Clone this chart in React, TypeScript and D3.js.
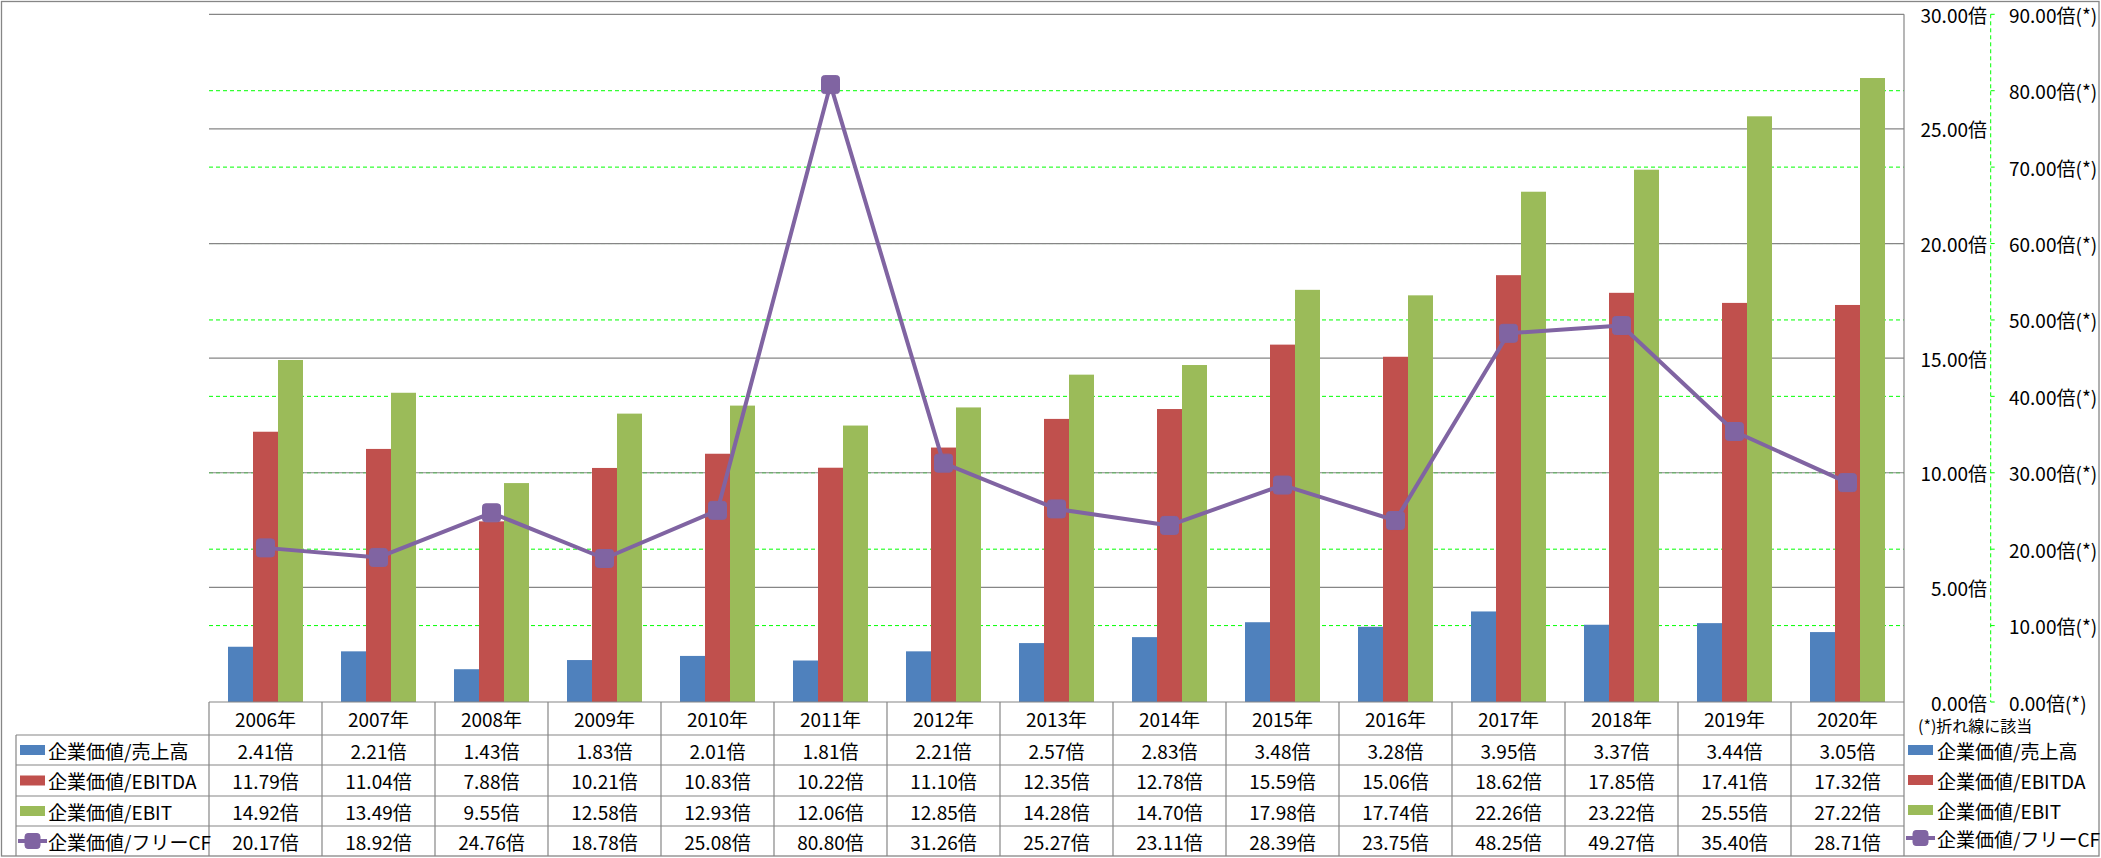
import React, { useEffect } from "react";
import * as d3 from "d3";

const years = ["2006", "2007", "2008", "2009", "2010", "2011", "2012", "2013", "2014", "2015", "2016", "2017", "2018", "2019", "2020"];
const seriesNames = ["企業価値/売上高", "企業価値/EBITDA", "企業価値/EBIT", "企業価値/フリーCF"];
const sales = [2.41, 2.21, 1.43, 1.83, 2.01, 1.81, 2.21, 2.57, 2.83, 3.48, 3.28, 3.95, 3.37, 3.44, 3.05];
const ebitda = [11.79, 11.04, 7.88, 10.21, 10.83, 10.22, 11.1, 12.35, 12.78, 15.59, 15.06, 18.62, 17.85, 17.41, 17.32];
const ebit = [14.92, 13.49, 9.55, 12.58, 12.93, 12.06, 12.85, 14.28, 14.7, 17.98, 17.74, 22.26, 23.22, 25.55, 27.22];
const fcf = [20.17, 18.92, 24.76, 18.78, 25.08, 80.8, 31.26, 25.27, 23.11, 28.39, 23.75, 48.25, 49.27, 35.4, 28.71];
const primaryTicks = [0, 5, 10, 15, 20, 25, 30];
const secondaryTicks = [0, 10, 20, 30, 40, 50, 60, 70, 80, 90];
const footnote = "(*)折れ線に該当";

const barColors = ["#4F81BD", "#C0504D", "#9BBB59"];
const lineColor = "#8064A2";
const gridGray = "#868686";
const green = "#00FF00";
const FONT = "'Noto Sans CJK JP', 'Noto Sans', sans-serif";

export default function App() {
  useEffect(() => {
    document.body.style.margin = "0";
  }, []);

  const W = 2101, H = 858;
  const left = 209, right = 1904, top = 14.3, bottom = 702;
  const x = d3.scaleBand<string>().domain(years).range([left, right]).paddingInner(0).paddingOuter(0);
  const bw = x.bandwidth();
  const groupW = bw * 75 / 113;
  const inner = d3.scaleBand<number>().domain([0, 1, 2]).range([0, groupW]);
  const yP = d3.scaleLinear().domain([0, 30]).range([bottom, top]);
  const yS = d3.scaleLinear().domain([0, 90]).range([bottom, top]);
  const barSeries = [sales, ebitda, ebit];

  const line = d3.line<number>()
    .x((_, i) => (x(years[i]) as number) + bw / 2)
    .y((d) => yS(d));

  const rowTops = [735, 765, 796, 826];
  const rowBottoms = [765, 796, 826, 856];
  const rowCenters = rowTops.map((t, i) => (t + rowBottoms[i]) / 2);
  const secAxisX = 1990.7;

  const marker = (cx: number, cy: number, s: number, key: string) => (
    <rect key={key} x={cx - s / 2} y={cy - s / 2} width={s} height={s} rx={3} ry={3} fill={lineColor} stroke={lineColor} strokeWidth={1} />
  );

  const legendSwatch = (xx: number, cy: number, k: number, key: string) => {
    if (k < 3) {
      return <rect key={key} x={xx} y={cy - 5} width={25} height={10} fill={barColors[k]} />;
    }
    return (
      <g key={key}>
        <line x1={xx - 2} x2={xx + 27} y1={cy} y2={cy} stroke={lineColor} strokeWidth={4} />
        {marker(xx + 12.5, cy, 15, key + "m")}
      </g>
    );
  };

  return (
    <svg width={W} height={H} style={{ position: "absolute", left: 0, top: 0, background: "#fff" }} fontFamily={FONT}>
      <rect x={0} y={0} width={W} height={H} fill="#fff" />
      {/* outer border */}
      <rect x={1.5} y={1.5} width={2097.5} height={854.5} fill="none" stroke={gridGray} strokeWidth={1.3} />

      {/* secondary (green dashed) gridlines */}
      {secondaryTicks.filter((t) => t > 0 && t < 90).map((t) => (
        <line key={"sg" + t} x1={left} x2={right} y1={yS(t)} y2={yS(t)} stroke={green} strokeWidth={1} strokeDasharray="4,3" />
      ))}
      {/* primary gray gridlines */}
      {primaryTicks.filter((t) => t > 0).map((t) => (
        <line key={"pg" + t} x1={left} x2={right} y1={yP(t)} y2={yP(t)} stroke={gridGray} strokeWidth={1.2} />
      ))}

      {/* bars */}
      {barSeries.map((s, k) =>
        s.map((v, i) => (
          <rect key={"b" + k + "-" + i}
            x={(x(years[i]) as number) + (bw - groupW) / 2 + (inner(k) as number)}
            y={yP(v)} width={inner.bandwidth()} height={bottom - yP(v)} fill={barColors[k]} />
        ))
      )}

      {/* line */}
      <path d={line(fcf) || ""} fill="none" stroke={lineColor} strokeWidth={4} strokeLinejoin="round" />
      {fcf.map((v, i) => marker((x(years[i]) as number) + bw / 2, yS(v), 18, "m" + i))}

      {/* primary axis line (right) */}
      <line x1={right} x2={right} y1={top} y2={bottom} stroke={gridGray} strokeWidth={1.2} />
      {primaryTicks.map((t) => (
        <text key={"pl" + t} x={1987} y={yP(t)} textAnchor="end" dominantBaseline="central" fontSize={19} fill="#000">
          {t.toFixed(2) + "倍"}
        </text>
      ))}

      {/* secondary axis */}
      <line x1={secAxisX} x2={secAxisX} y1={top} y2={bottom} stroke={green} strokeWidth={1} strokeDasharray="4,3" />
      {secondaryTicks.map((t) => (
        <g key={"st" + t}>
          <line x1={secAxisX} x2={secAxisX + 4} y1={yS(t)} y2={yS(t)} stroke={green} strokeWidth={1} />
          <text x={2009} y={yS(t)} textAnchor="start" dominantBaseline="central" fontSize={19} fill="#000">
            {t.toFixed(2) + "倍(*)"}
          </text>
        </g>
      ))}
      <text x={1918} y={725} fontSize={16} dominantBaseline="central" fill="#000">{footnote}</text>

      {/* data table */}
      <g stroke={gridGray} strokeWidth={1.2}>
        <line x1={left} x2={right} y1={bottom} y2={bottom} />
        {rowTops.map((t) => (
          <line key={"hr" + t} x1={16} x2={right} y1={t} y2={t} />
        ))}
        <line x1={16} x2={16} y1={735} y2={856} />
        {years.map((yr) => (
          <line key={"vl" + yr} x1={x(yr) as number} x2={x(yr) as number} y1={bottom} y2={856} />
        ))}
        <line x1={right} x2={right} y1={bottom} y2={856} />
      </g>
      {years.map((yr) => (
        <text key={"yr" + yr} x={(x(yr) as number) + bw / 2} y={718} textAnchor="middle" dominantBaseline="central" fontSize={19} fill="#000">
          {yr + "年"}
        </text>
      ))}
      {[sales, ebitda, ebit, fcf].map((s, k) =>
        s.map((v, i) => (
          <text key={"c" + k + "-" + i} x={(x(years[i]) as number) + bw / 2} y={rowCenters[k]} textAnchor="middle" dominantBaseline="central" fontSize={19} fill="#000">
            {v.toFixed(2) + "倍"}
          </text>
        ))
      )}
      {/* left legend keys in table */}
      {seriesNames.map((n, k) => (
        <g key={"ll" + k}>
          {legendSwatch(20, rowCenters[k], k, "lls" + k)}
          <text x={48} y={rowCenters[k]} dominantBaseline="central" fontSize={19} fill="#000">{n}</text>
        </g>
      ))}
      {/* right legend */}
      {seriesNames.map((n, k) => {
        const cy = [750, 780, 810, 838][k];
        return (
          <g key={"rl" + k}>
            {legendSwatch(1908, cy, k, "rls" + k)}
            <text x={1937} y={cy} dominantBaseline="central" fontSize={19} fill="#000">{n}</text>
          </g>
        );
      })}
    </svg>
  );
}
